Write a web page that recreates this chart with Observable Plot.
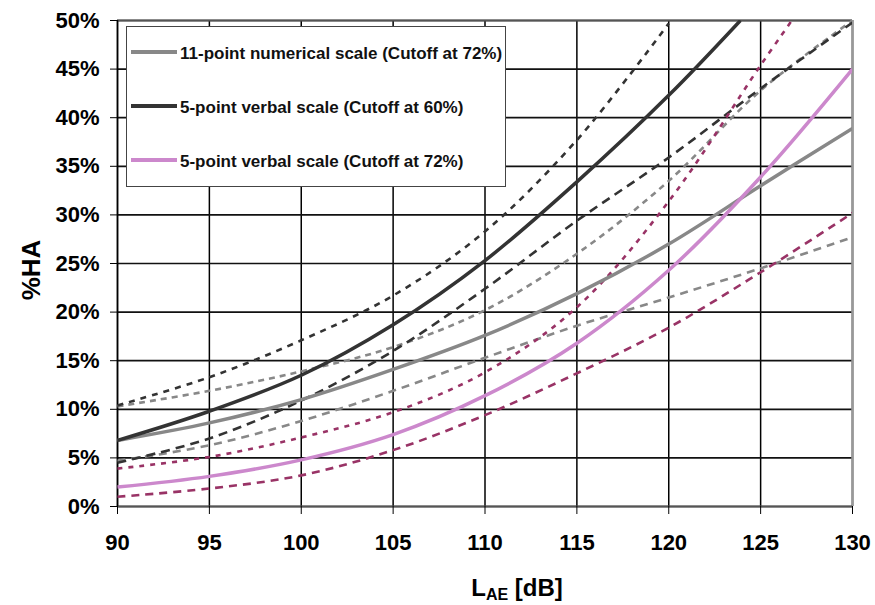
<!DOCTYPE html>
<html>
<head>
<meta charset="utf-8">
<script src="https://cdn.jsdelivr.net/npm/d3@7"></script>
<script src="https://cdn.jsdelivr.net/npm/@observablehq/plot@0.6"></script>
<style>
  body { margin: 0; background: #fff; font-family: "Liberation Sans", Arial, sans-serif; }
  #wrap { position: relative; width: 875px; height: 605px; }
  #legend { position: absolute; left: 126px; top: 26px; width: 378px; height: 159px;
            border: 1px solid #444; background: #fff; }
  .sw { position: absolute; left: 4px; width: 46px; height: 4px; }
  .lab { position: absolute; left: 53px; font-weight: bold; font-size: 17px; line-height: 20px;
         white-space: nowrap; color: #111; }
</style>
</head>
<body>
<div id="wrap"></div>
<script>
// ---- data ----
const xTicks = [90, 95, 100, 105, 110, 115, 120, 125, 130];
const yTicks = [0, 5, 10, 15, 20, 25, 30, 35, 40, 45, 50];
const legendLabels = [
  "11-point numerical scale (Cutoff at 72%)",
  "5-point verbal scale (Cutoff at 60%)",
  "5-point verbal scale (Cutoff at 72%)"
];

const xFull = [90, 95, 100, 105, 110, 115, 120, 125, 130];

// 11-point numerical scale (cutoff 72%)
const grayMean  = [6.8, 8.6, 11.0, 14.1, 17.6, 21.9, 27.0, 33.0, 38.9];
const grayUpper = [10.3, 11.9, 13.9, 16.4, 20.2, 26.0, 33.5, 42.8, 50.0];
const grayLower = [4.7, 6.3, 8.8, 11.9, 15.3, 18.6, 21.5, 24.5, 27.7];

// 5-point verbal scale (cutoff 60%)
const xDarkMean  = [90, 95, 100, 105, 110, 115, 120, 123.9];
const darkMean   = [6.8, 9.8, 13.5, 18.7, 25.3, 33.4, 42.3, 50.0];
const xDarkUpper = [90, 95, 100, 105, 110, 115, 120];
const darkUpper  = [10.4, 13.3, 17.1, 21.7, 28.3, 37.7, 49.7];
const darkLower  = [4.5, 7.0, 10.9, 16.0, 22.4, 29.4, 35.9, 43.0, 49.8];

// 5-point verbal scale (cutoff 72%)
const pinkMean    = [2.0, 3.1, 4.8, 7.4, 11.4, 16.8, 24.3, 33.9, 45.0];
const xPinkUpper  = [90, 95, 100, 105, 110, 115, 120, 125, 126.7];
const pinkUpper   = [3.9, 5.1, 7.1, 9.7, 13.8, 20.5, 31.4, 45.4, 50.0];
const pinkLower   = [1.0, 1.85, 3.2, 5.8, 9.4, 13.7, 18.4, 24.1, 30.2];

// ---- styles ----
const cGray = "#888888", cDark = "#333333", cPink = "#cc88cc", cMaroon = "#993366";
const solidW = 3.5, dashW = 2.6;
const curve = "catmull-rom";

function ln(xs, ys, stroke, w, dash) {
  return Plot.line(ys, {x: xs, y: d => d, stroke, strokeWidth: w, strokeDasharray: dash,
                        curve, clip: true, strokeLinecap: "butt"});
}

const plot = Plot.plot({
  width: 875, height: 605,
  marginLeft: 117, marginRight: 23, marginTop: 20, marginBottom: 99,
  style: {fontFamily: "'Liberation Sans', Arial, sans-serif", fontSize: "22px",
          fontWeight: "bold", color: "#000", background: "#fff", overflow: "visible"},
  x: {domain: [90, 130]},
  y: {domain: [0, 50]},
  marks: [
    Plot.gridX(xTicks, {stroke: "#000", strokeOpacity: 1, strokeWidth: 1.5}),
    Plot.gridY(yTicks, {stroke: "#111", strokeOpacity: 1, strokeWidth: 1.7}),
    Plot.ruleY([50], {stroke: "#555", strokeWidth: 2}),
    Plot.ruleX([130], {stroke: "#999", strokeWidth: 2.5}),
    Plot.ruleY([0], {stroke: "#555", strokeWidth: 2}),
    Plot.ruleX([90], {stroke: "#000", strokeWidth: 1.5}),
    Plot.axisX(xTicks, {tickSize: 8, tickPadding: 20, label: null, fontSize: 22, fontWeight: "bold"}),
    Plot.axisY(yTicks, {tickSize: 7, tickPadding: 11, label: null, tickFormat: d => d + "%",
                        fontSize: 22, fontWeight: "bold"}),
    // confidence bounds
    ln(xFull, grayUpper, cGray, dashW, "6,5"),
    ln(xFull, grayLower, cGray, dashW, "8,6"),
    ln(xDarkUpper, darkUpper, cDark, dashW, "6,6"),
    ln(xFull, darkLower, cDark, dashW, "9,6"),
    ln(xPinkUpper, pinkUpper, cMaroon, dashW, "5,6"),
    ln(xFull, pinkLower, cMaroon, dashW, "8,6"),
    // main curves
    ln(xFull, grayMean, cGray, solidW, null),
    ln(xDarkMean, darkMean, cDark, solidW, null),
    ln(xFull, pinkMean, cPink, solidW, null)
  ]
});

const wrap = document.getElementById("wrap");
wrap.appendChild(plot);

// axis titles
const svg = d3.select(plot);
const xt = svg.append("text")
  .attr("x", 517).attr("y", 596).attr("text-anchor", "middle")
  .attr("font-size", 24).attr("font-weight", "bold").attr("fill", "#000");
xt.append("tspan").text("L");
xt.append("tspan").attr("font-size", 16).attr("dy", 4).text("AE");
xt.append("tspan").attr("dy", -4).text(" [dB]");

svg.append("text")
  .attr("transform", "translate(40,270) rotate(-90)")
  .attr("text-anchor", "middle")
  .attr("font-size", 26).attr("font-weight", "bold").attr("fill", "#000")
  .text("%HA");

// legend
const legend = document.createElement("div");
legend.id = "legend";
const swatchColors = [cGray, cDark, cPink];
const rowY = [25, 79, 133];
legendLabels.forEach((t, i) => {
  const sw = document.createElement("div");
  sw.className = "sw";
  sw.style.top = (rowY[i] - 2) + "px";
  sw.style.background = swatchColors[i];
  legend.appendChild(sw);
  const lb = document.createElement("div");
  lb.className = "lab";
  lb.style.top = (rowY[i] - 8) + "px";
  lb.textContent = t;
  legend.appendChild(lb);
});
wrap.appendChild(legend);
</script>
</body>
</html>
